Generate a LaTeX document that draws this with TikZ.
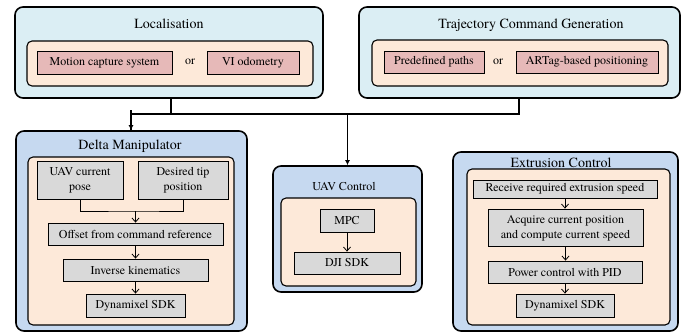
\documentclass[tikz,border=0pt]{standalone}
\usepackage{fontspec}
\setmainfont{texgyretermes-regular.otf}
\usetikzlibrary{arrows.meta}
\definecolor{topblue}{HTML}{DBEEF4}
\definecolor{botblue}{HTML}{C6D9F0}
\definecolor{peach}{HTML}{FDE9D9}
\definecolor{pinkbox}{HTML}{E6B9B8}
\definecolor{graybox}{HTML}{D9D9D9}
\newcommand{\twolines}[2]{\begin{tabular}{@{}c@{}}#1\\#2\end{tabular}}
\tikzset{
  outerbox/.style={draw=black, line width=1.6pt, rounded corners=8pt, inner sep=0pt},
  innerbox/.style={draw=black, fill=peach, line width=1.1pt, rounded corners=5pt, inner sep=0pt},
  pbox/.style={draw=black, fill=pinkbox, line width=0.8pt, inner sep=0pt, font=\fontsize{12}{15}\selectfont},
  gbox/.style={draw=black, fill=graybox, line width=0.8pt, inner sep=0pt, align=center, font=\fontsize{12}{15}\selectfont},
  ttl/.style={font=\fontsize{14}{16}\selectfont, inner sep=0pt},
  sttl/.style={font=\fontsize{12}{14}\selectfont, inner sep=0pt},
  ortxt/.style={font=\fontsize{12}{14}\selectfont, inner sep=0pt},
  bus/.style={line width=1.6pt},
  busarrow/.style={line width=1.6pt, -{Latex[length=5pt,width=5pt]}},
  thinline/.style={line width=0.8pt},
  thinarrow/.style={line width=0.8pt, -{Straight Barb[length=4pt,width=7pt]}}
}
\begin{document}
\begin{tikzpicture}[x=1pt,y=-1pt]
\useasboundingbox (0,0) rectangle (692,332);
\begin{scope}
\clip (0,0) rectangle (692,332);
% Localisation
\node[outerbox, fill=topblue, minimum width=308pt, minimum height=91pt] (loc) at (169,52.5) {};
\node[ttl] (loct) at (169,24) {Localisation};
\node[innerbox, minimum width=286pt, minimum height=45pt] (loci) at (170,63.5) {};
\node[pbox, minimum width=135pt, minimum height=23pt] (mocap) at (104.5,62.5) {Motion capture system};
\node[ortxt] (or1) at (190,62) {or};
\node[pbox, minimum width=92pt, minimum height=23pt] (vio) at (253,62.5) {VI odometry};
% Trajectory
\node[outerbox, fill=topblue, minimum width=321pt, minimum height=91pt] (traj) at (519.5,52.5) {};
\node[ttl] (trajt) at (531,25) {Trajectory Command Generation};
\node[innerbox, minimum width=296pt, minimum height=46pt] (traji) at (520,63) {};
\node[pbox, minimum width=100pt, minimum height=22pt] (paths) at (434,62) {Predefined paths};
\node[ortxt] (or2) at (498,62) {or};
\node[pbox, minimum width=142pt, minimum height=22pt] (artag) at (587,62) {ARTag-based positioning};
% Delta
\node[outerbox, fill=botblue, minimum width=231pt, minimum height=200pt] (delta) at (131.5,231) {};
\node[ttl] (deltat) at (130,146) {Delta Manipulator};
\node[innerbox, minimum width=206pt, minimum height=168pt] (deltai) at (131,241) {};
\node[gbox, minimum width=86pt, minimum height=38pt] (pose) at (80,180) {\twolines{UAV current}{pose}};
\node[gbox, minimum width=90pt, minimum height=38pt] (tip) at (183,180) {\twolines{Desired tip}{position}};
\node[gbox, minimum width=175pt, minimum height=22pt] (offset) at (135.5,234) {Offset from command reference};
\node[gbox, minimum width=145pt, minimum height=22pt] (ik) at (135.5,270) {Inverse kinematics};
\node[gbox, minimum width=99pt, minimum height=23pt] (dyn1) at (135.5,305.5) {Dynamixel SDK};
\coordinate (jm) at (135.5,211);
\draw[thinline] (pose.south) |- (jm) -| (tip.south);
\draw[thinarrow] (jm) -- (offset.north);
\draw[thinarrow] (offset.south) -- (ik.north);
\draw[thinarrow] (ik.south) -- (dyn1.north);
% UAV Control
\node[outerbox, fill=botblue, minimum width=149pt, minimum height=126pt] (uav) at (347.5,229) {};
\node[sttl] (uavt) at (344,186) {UAV Control};
\node[innerbox, minimum width=135pt, minimum height=88pt] (uavi) at (348.5,242) {};
\node[gbox, minimum width=54pt, minimum height=23pt] (mpc) at (347,220.5) {MPC};
\node[gbox, minimum width=106pt, minimum height=22pt] (dji) at (347,263) {DJI SDK};
\draw[thinarrow] (mpc.south) -- (dji.north);
% Extrusion
\node[outerbox, fill=botblue, minimum width=225pt, minimum height=179pt] (ext) at (565.5,241.5) {};
\node[ttl] (extt) at (561,163) {Extrusion Control};
\node[innerbox, minimum width=203pt, minimum height=156pt] (exti) at (568.5,247) {};
\node[gbox, minimum width=184pt, minimum height=18pt] (recv) at (565,189) {Receive required extrusion speed};
\node[gbox, minimum width=155pt, minimum height=37pt] (acq) at (565.5,227.5) {\twolines{Acquire current position}{and compute current speed}};
\node[gbox, minimum width=154pt, minimum height=22pt] (pid) at (565,272) {Power control with PID};
\node[gbox, minimum width=98pt, minimum height=23pt] (dyn2) at (565,305.5) {Dynamixel SDK};
\draw[thinarrow] (recv.south) -- (recv.south |- acq.north);
\draw[thinarrow] (acq.south) -- (acq.south |- pid.north);
\draw[thinarrow] (pid.south) -- (dyn2.north);
% bus connectors
\coordinate (lx) at (171,114);
\coordinate (hl) at (131,114);
\coordinate (hr) at (519,114);
\draw[bus] (loc.south -| lx) -- (lx);
\draw[bus, line join=miter] (traj.south -| hr) -- (hr) -- (hl) -- ([yshift=-2pt]hl |- delta.north);
\draw[busarrow] ([yshift=4pt]hl) -- (hl |- delta.north);
\draw[busarrow] (uav.north |- hl) -- (uav.north);
\end{scope}
\end{tikzpicture}
\end{document}
